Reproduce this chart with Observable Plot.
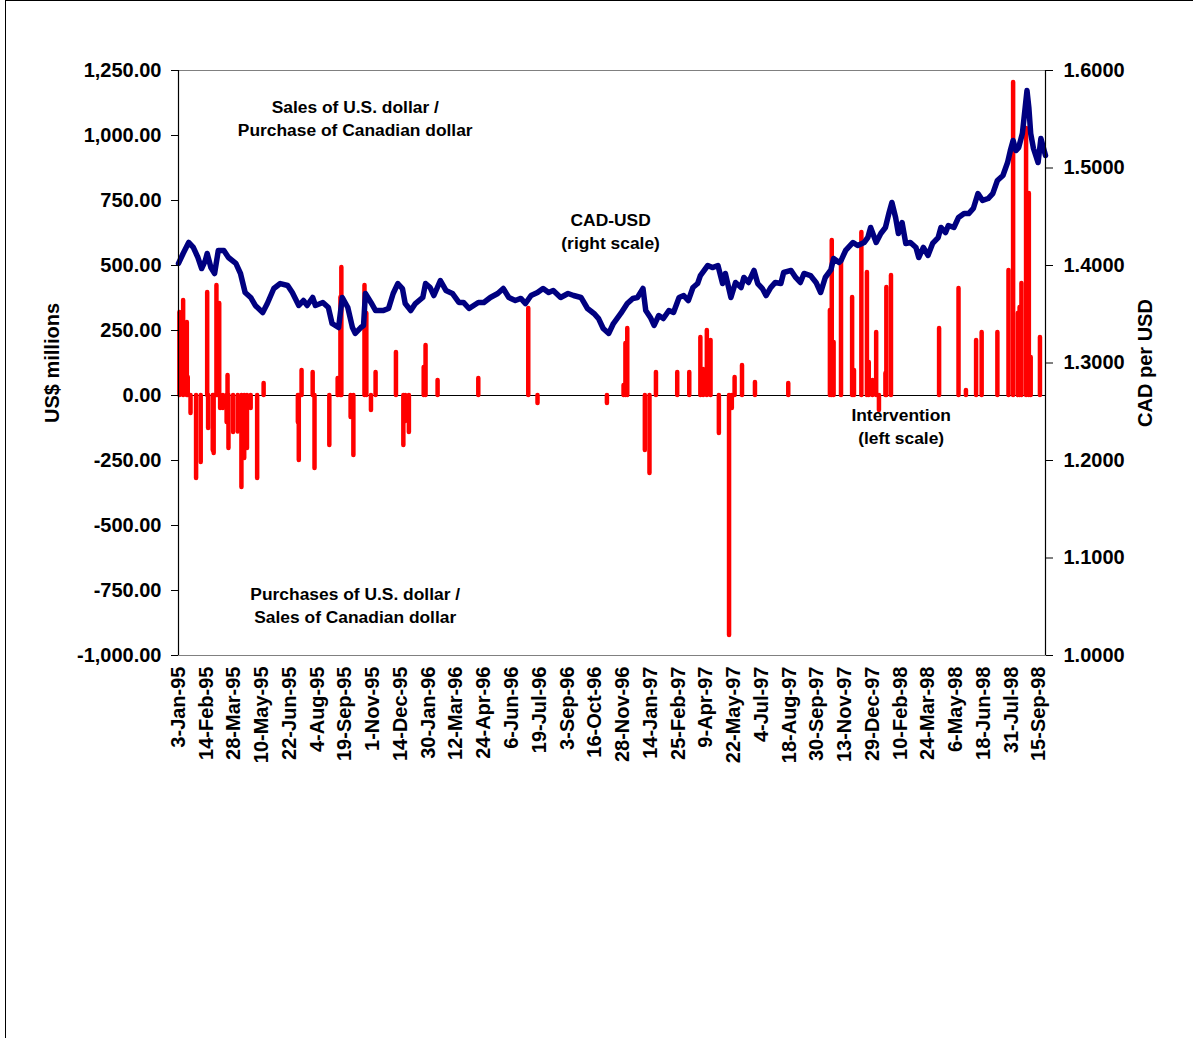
<!DOCTYPE html>
<html><head><meta charset="utf-8">
<script src="https://cdn.jsdelivr.net/npm/d3@7"></script>
<script src="https://cdn.jsdelivr.net/npm/@observablehq/plot@0.6"></script>
<style>
body{margin:0;background:#fff;font-family:"Liberation Sans",Arial,sans-serif}
#chart{position:absolute;left:0;top:0}
#frame{position:absolute;left:5px;top:0;width:1200px;height:1100px;border:1.5px solid #000;box-sizing:border-box;pointer-events:none}
</style></head><body><div id="chart"></div><div id="frame"></div>
<script>
// business-day index since 3-Jan-95
const rateDay = [0,5,11,16,21,25,29,31,35,39,43,49,54,62,67,72,78,83,91,96,103,110,118,123,130,135,139,145,148,156,162,166,173,177,183,188,191,197,200,202,208,213,221,227,232,237,242,245,251,256,264,267,272,276,283,289,296,303,308,314,319,324,330,337,345,351,357,364,370,375,381,388,394,400,405,413,421,427,435,442,449,454,459,465,470,478,485,491,496,502,505,510,514,519,524,530,535,541,546,551,556,561,564,572,577,583,588,591,597,602,608,611,616,622,626,631,635,640,645,651,654,662,667,672,676,683,689,694,699,705,708,714,716,721,729,734,741,745,748,754,759,764,768,771,775,778,782,786,791,797,800,805,810,815,821,824,829,832,838,843,849,854,859,864,869,875,880,885,891,896,899,902,905,908,912,917,919,921,924,929,932,937];
const rateValue = [1.4021,1.4123,1.4236,1.4185,1.4082,1.3969,1.4051,1.4123,1.3979,1.3918,1.4154,1.4154,1.4082,1.4021,1.3918,1.3723,1.3672,1.3590,1.3518,1.3610,1.3764,1.3815,1.3795,1.3723,1.3590,1.3641,1.3590,1.3672,1.3590,1.3621,1.3569,1.3405,1.3364,1.3672,1.3569,1.3364,1.3303,1.3364,1.3385,1.3713,1.3621,1.3538,1.3538,1.3559,1.3713,1.3815,1.3764,1.3610,1.3538,1.3610,1.3672,1.3815,1.3774,1.3692,1.3846,1.3744,1.3713,1.3621,1.3621,1.3559,1.3590,1.3621,1.3621,1.3672,1.3713,1.3764,1.3672,1.3641,1.3662,1.3610,1.3692,1.3723,1.3764,1.3723,1.3744,1.3672,1.3713,1.3692,1.3672,1.3559,1.3508,1.3456,1.3354,1.3303,1.3405,1.3508,1.3610,1.3662,1.3672,1.3764,1.3538,1.3467,1.3385,1.3487,1.3456,1.3538,1.3518,1.3672,1.3692,1.3641,1.3774,1.3815,1.3897,1.4000,1.3979,1.4000,1.3815,1.3918,1.3672,1.3826,1.3774,1.3877,1.3826,1.3949,1.3815,1.3764,1.3692,1.3774,1.3826,1.3815,1.3928,1.3949,1.3877,1.3826,1.3918,1.3897,1.3826,1.3723,1.3877,1.3954,1.4072,1.4031,1.4051,1.4154,1.4236,1.4205,1.4236,1.4287,1.4390,1.4236,1.4328,1.4390,1.4544,1.4646,1.4492,1.4328,1.4441,1.4226,1.4236,1.4185,1.4082,1.4185,1.4103,1.4226,1.4287,1.4390,1.4338,1.4410,1.4390,1.4492,1.4533,1.4533,1.4585,1.4738,1.4667,1.4687,1.4738,1.4872,1.4923,1.5056,1.5179,1.5282,1.5179,1.5210,1.5354,1.5795,1.5621,1.5354,1.5200,1.5056,1.5303,1.5128];

const intDay = [1,5,9,10,13,19,24,31,32,37,38,41,42,44,45,48,52,53,54,59,64,68,71,74,78,85,92,129,130,133,145,147,163,172,175,176,186,189,201,203,208,213,235,243,245,249,265,267,280,324,378,388,463,481,483,485,504,509,516,539,552,564,567,571,575,584,595,598,601,609,623,659,704,706,708,716,728,730,738,744,746,750,754,757,764,765,770,822,843,851,862,868,885,897,902,907,909,911,916,919,921,931];
const intValue = [319,365,281,69,-69,-319,-258,396,-127,-212,-223,423,96,354,-50,-50,-104,77,-204,-142,-140,-354,-242,-204,-50,-319,46,-104,-250,96,88,-281,-192,65,377,492,-85,-231,423,315,-58,88,165,-192,-100,-142,108,192,58,65,335,-31,-31,38,200,258,-212,-300,88,88,88,223,100,250,212,-146,-923,-50,69,115,50,46,327,596,204,519,377,96,627,473,127,58,242,-58,85,415,462,258,412,19,212,242,242,481,1204,315,338,431,1027,777,146,223];

const tickDays = d3.range(0, 931, 30);
const tickLabels = ["3-Jan-95","14-Feb-95","28-Mar-95","10-May-95","22-Jun-95","4-Aug-95","19-Sep-95","1-Nov-95","14-Dec-95","30-Jan-96","12-Mar-96","24-Apr-96","6-Jun-96","19-Jul-96","3-Sep-96","16-Oct-96","28-Nov-96","14-Jan-97","25-Feb-97","9-Apr-97","22-May-97","4-Jul-97","18-Aug-97","30-Sep-97","13-Nov-97","29-Dec-97","10-Feb-98","24-Mar-98","6-May-98","18-Jun-98","31-Jul-98","15-Sep-98"];
const leftTicks = [-1000,-750,-500,-250,0,250,500,750,1000,1250];
const rightTicks = [1.0,1.1,1.2,1.3,1.4,1.5,1.6];

const annText = ["Sales of U.S. dollar /\nPurchase of Canadian dollar","CAD-USD\n(right scale)","Intervention\n(left scale)","Purchases of U.S. dollar /\nSales of Canadian dollar"];
const annDay = [191, 467, 781, 191];
const annValue = [1071, 635, -115, -803];

// map right scale (CAD per USD) onto left scale (US$ millions)
const toLeft = r => (r - 1) * 3750 - 1000;
const fromLeft = v => (v + 1000) / 3750 + 1;
const rates = rateDay.map((d, i) => ({day: d, v: toLeft(rateValue[i])}));
const interv = intDay.map((d, i) => ({day: d, v: intValue[i]}));
const ann = annText.map((t, i) => ({t, day: annDay[i], v: annValue[i]}));
const fmtLeft = d3.formatLocale({decimal: ".", thousands: ",", grouping: [3], currency: ["$", ""], minus: "-"}).format(",.2f");

const chart = Plot.plot({
  width: 1193, height: 1038,
  marginLeft: 178, marginRight: 148, marginTop: 70, marginBottom: 383,
  style: {fontFamily: "'Liberation Sans', Arial, sans-serif", fontWeight: "bold", fontSize: "20px", color: "#000", background: "transparent"},
  x: {domain: [0, 937]},
  y: {domain: [-1000, 1250]},
  marks: [
    Plot.frame({stroke: "#808080"}),
    Plot.ruleY([0], {stroke: "#000", strokeWidth: 1.2}),
    Plot.ruleX(interv, {x: "day", y1: 0, y2: "v", stroke: "#ff0000", strokeWidth: 4.5, strokeLinecap: "round"}),
    Plot.line(rates, {x: "day", y: "v", stroke: "#000080", strokeWidth: 5.5, strokeLinejoin: "round", strokeLinecap: "round"}),
    Plot.axisY(leftTicks, {anchor: "left", tickFormat: fmtLeft, tickSize: 7, tickPadding: 10, fontSize: 20,
      label: "US$ millions", labelAnchor: "center", labelOffset: 134, labelArrow: "none"}),
    Plot.axisY(rightTicks.map(toLeft), {anchor: "right", tickFormat: d => fromLeft(d).toFixed(4), tickSize: 7, tickPadding: 11, fontSize: 20,
      label: "CAD per USD", labelAnchor: "center", labelOffset: 106, labelArrow: "none"}),
    Plot.axisX(tickDays, {anchor: "bottom", tickFormat: d => tickLabels[tickDays.indexOf(d)], tickRotate: -90, tickSize: 0, tickPadding: 11, fontSize: 20, label: null}),
    Plot.ruleX([0], {stroke: "#000", strokeWidth: 1.2}),
    Plot.ruleX([937], {stroke: "#000", strokeWidth: 1.2}),
    Plot.text(ann, {x: "day", y: "v", text: "t", fontSize: 17.4, fontWeight: "bold", lineHeight: 1.32, fill: "#000"})
  ]
});
document.getElementById("chart").append(chart);
</script></body></html>
